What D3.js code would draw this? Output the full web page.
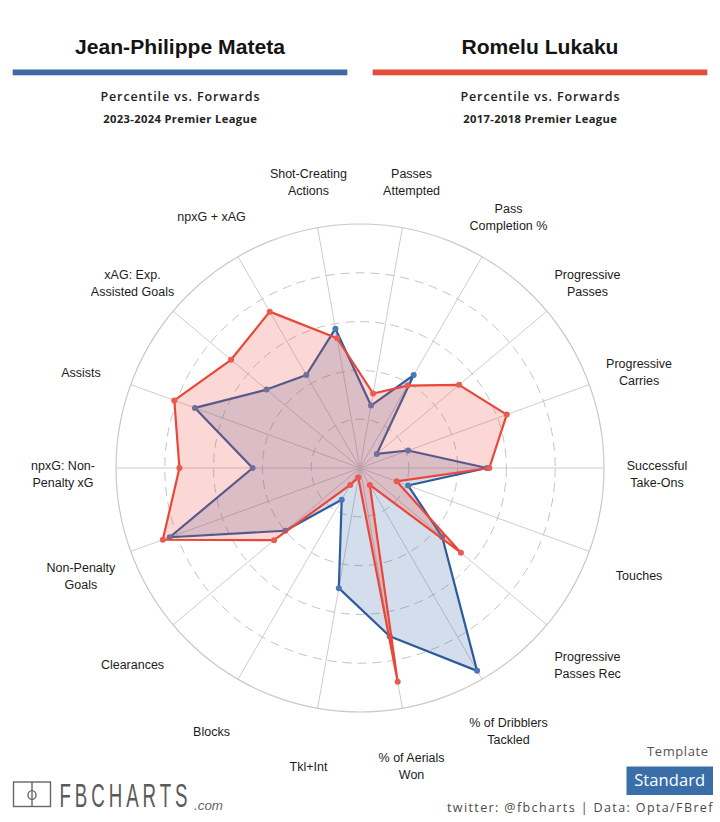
<!DOCTYPE html>
<html>
<head>
<meta charset="utf-8">
<script src="https://cdn.jsdelivr.net/npm/d3@7"></script>
<style>
  html, body { margin: 0; padding: 0; background: #ffffff; }
  svg { display: block; }
</style>
</head>
<body>
<svg id="chart" width="720" height="822"></svg>
<script>
// ---------------- DATA ----------------
const categories = [
  "Passes Attempted", "Pass Completion %", "Progressive Passes", "Progressive Carries",
  "Successful Take-Ons", "Touches", "Progressive Passes Rec", "% of Dribblers Tackled",
  "% of Aerials Won", "Tkl+Int", "Blocks", "Clearances", "Non-Penalty Goals",
  "npxG: Non-Penalty xG", "Assists", "xAG: Exp. Assisted Goals", "npxG + xAG",
  "Shot-Creating Actions"
];
const categoryLines = [
  ["Passes", "Attempted"], ["Pass", "Completion %"], ["Progressive", "Passes"], ["Progressive", "Carries"],
  ["Successful", "Take-Ons"], ["Touches"], ["Progressive", "Passes Rec"], ["% of Dribblers", "Tackled"],
  ["% of Aerials", "Won"], ["Tkl+Int"], ["Blocks"], ["Clearances"], ["Non-Penalty", "Goals"],
  ["npxG: Non-", "Penalty xG"], ["Assists"], ["xAG: Exp.", "Assisted Goals"], ["npxG + xAG"],
  ["Shot-Creating", "Actions"]
];
const matetaValues = [26, 44, 9, 21, 52, 21, 44, 96, 70, 50, 15, 40, 83, 44, 72, 50, 44, 58];
const lukakuValues = [31, 39, 53, 64, 53, 16, 54, 8, 89, 4, 8, 46, 86, 74, 81, 69, 74, 54];
const gridTicks = [20, 40, 60, 80];
const players = ["Jean-Philippe Mateta", "Romelu Lukaku"];
const subtitles = ["Percentile vs. Forwards", "Percentile vs. Forwards"];
const seasons = ["2023-2024 Premier League", "2017-2018 Premier League"];

// ---------------- LAYOUT ----------------
const svg = d3.select("#chart");
const cx = 360, cy = 468, R = 244;
const n = categories.length;
const rScale = d3.scaleLinear().domain([0, 100]).range([0, R]);
const aScale = d3.scaleLinear().domain([0, n]).range([10 * Math.PI / 180, 370 * Math.PI / 180]);

const colors = {
  blueBar: "#3f69a3", redBar: "#e64c3c",
  blueLine: "#2d5b9d", bluePt: "#4b78b4", blueFill: "rgba(52,96,160,0.21)",
  redLine: "#e8473a", redPt: "#ea5a4e", redFill: "rgba(238,84,72,0.23)"
};

// ---------------- HEADER ----------------
const header = svg.append("g");
const headerCenters = [180, 540];
const titleWidths = [210, 157];
const barColors = [colors.blueBar, colors.redBar];
headerCenters.forEach((hx, i) => {
  header.append("text")
    .attr("x", hx).attr("y", 54)
    .attr("text-anchor", "middle")
    .attr("font-family", "Liberation Sans, Arial, sans-serif")
    .attr("font-weight", "bold").attr("font-size", 21)
    .attr("fill", "#141414")
    .attr("textLength", titleWidths[i]).attr("lengthAdjust", "spacingAndGlyphs")
    .text(players[i]);
  header.append("rect")
    .attr("x", hx - 167.3).attr("y", 69.5).attr("width", 334.6).attr("height", 5.8)
    .attr("fill", barColors[i]);
  header.append("text")
    .attr("x", hx).attr("y", 100.7)
    .attr("text-anchor", "middle")
    .attr("font-family", "Open Sans, DejaVu Sans, sans-serif")
    .attr("font-weight", 600).attr("font-size", 12.5)
    .attr("fill", "#222")
    .attr("textLength", 159).attr("lengthAdjust", "spacing")
    .text(subtitles[i]);
  header.append("text")
    .attr("x", hx).attr("y", 122.7)
    .attr("text-anchor", "middle")
    .attr("font-family", "Open Sans, DejaVu Sans, sans-serif")
    .attr("font-weight", 700).attr("font-size", 11.2)
    .attr("fill", "#222")
    .attr("textLength", 153.5).attr("lengthAdjust", "spacing")
    .text(seasons[i]);
});

// ---------------- RADAR GRID ----------------
const g = svg.append("g").attr("transform", `translate(${cx},${cy})`);

g.selectAll(".spoke").data(categories).enter().append("line")
  .attr("x1", 0).attr("y1", 0)
  .attr("x2", (d, i) => rScale(100) * Math.sin(aScale(i)))
  .attr("y2", (d, i) => -rScale(100) * Math.cos(aScale(i)))
  .attr("stroke", "#cdcdcd").attr("stroke-width", 1);

g.selectAll(".ring").data(gridTicks).enter().append("circle")
  .attr("r", d => rScale(d))
  .attr("fill", "none").attr("stroke", "#c4c4c4").attr("stroke-width", 1)
  .attr("stroke-dasharray", "9,6");

g.append("circle").attr("r", rScale(100))
  .attr("fill", "none").attr("stroke", "#c9c9c9").attr("stroke-width", 1.2);

// ---------------- SERIES ----------------
const radial = d3.lineRadial()
  .angle((d, i) => aScale(i))
  .radius(d => rScale(d))
  .curve(d3.curveLinearClosed);

function drawSeries(values, fill, line, pt) {
  const s = g.append("g");
  s.append("path").attr("d", radial(values))
    .attr("fill", fill).attr("stroke", line).attr("stroke-width", 2.2)
    .attr("stroke-linejoin", "round");
  s.selectAll("circle").data(values).enter().append("circle")
    .attr("cx", (d, i) => rScale(d) * Math.sin(aScale(i)))
    .attr("cy", (d, i) => -rScale(d) * Math.cos(aScale(i)))
    .attr("r", 3)
    .attr("fill", pt);
}
drawSeries(matetaValues, colors.blueFill, colors.blueLine, colors.bluePt);
drawSeries(lukakuValues, colors.redFill, colors.redLine, colors.redPt);

// ---------------- AXIS LABELS ----------------
const labelR = 297, lineH = 17;
categoryLines.forEach((lines, i) => {
  const a = aScale(i);
  const lx = labelR * Math.sin(a);
  const ly = -labelR * Math.cos(a) + 6;
  const t = g.append("text")
    .attr("text-anchor", "middle")
    .attr("font-family", "Liberation Sans, Arial, sans-serif")
    .attr("font-size", 12.5)
    .attr("fill", "#1c1c1c");
  lines.forEach((ln, j) => {
    t.append("tspan")
      .attr("x", lx)
      .attr("y", ly + 4.5 + (j - (lines.length - 1) / 2) * lineH)
      .text(ln);
  });
});

// ---------------- FOOTER ----------------
const logo = svg.append("g").attr("stroke", "#666").attr("fill", "none").attr("stroke-width", 1.4);
logo.append("rect").attr("x", 13.5).attr("y", 782).attr("width", 37).attr("height", 24.5);
logo.append("line").attr("x1", 32).attr("x2", 32).attr("y1", 782).attr("y2", 806.5);
logo.append("ellipse").attr("cx", 32).attr("cy", 795).attr("rx", 4).attr("ry", 4.4);

const sx = 0.55;
svg.append("g").attr("transform", `scale(${sx},1)`)
  .append("text")
  .attr("x", 59.5 / sx).attr("y", 807.3)
  .attr("font-family", "Liberation Sans Narrow, Liberation Sans, Arial, sans-serif")
  .attr("font-size", 34).attr("fill", "#5a5a5a")
  .attr("textLength", 128 / sx).attr("lengthAdjust", "spacing")
  .text("FBCHARTS");
svg.append("text")
  .attr("x", 194).attr("y", 810)
  .attr("font-family", "Liberation Sans, Arial, sans-serif")
  .attr("font-style", "italic").attr("font-size", 13).attr("fill", "#666")
  .attr("textLength", 29).attr("lengthAdjust", "spacingAndGlyphs")
  .text(".com");

svg.append("text")
  .attr("x", 708).attr("y", 755.7).attr("text-anchor", "end")
  .attr("font-family", "Open Sans, DejaVu Sans, sans-serif")
  .attr("font-size", 13).attr("fill", "#555")
  .attr("textLength", 61).attr("lengthAdjust", "spacing")
  .text("Template");
svg.append("rect")
  .attr("x", 626.5).attr("y", 766.5).attr("width", 86.5).attr("height", 28.5)
  .attr("fill", "#3a6ea8");
svg.append("text")
  .attr("x", 669.7).attr("y", 786).attr("text-anchor", "middle")
  .attr("font-family", "Open Sans, DejaVu Sans, sans-serif")
  .attr("font-size", 16.5).attr("fill", "#ffffff")
  .attr("textLength", 71).attr("lengthAdjust", "spacing")
  .text("Standard");
svg.append("text")
  .attr("x", 712.5).attr("y", 812).attr("text-anchor", "end")
  .attr("font-family", "Open Sans, DejaVu Sans, sans-serif")
  .attr("font-size", 12.5).attr("fill", "#4a4a4a")
  .attr("textLength", 265.5).attr("lengthAdjust", "spacing")
  .text("twitter: @fbcharts | Data: Opta/FBref");
</script>
</body>
</html>
